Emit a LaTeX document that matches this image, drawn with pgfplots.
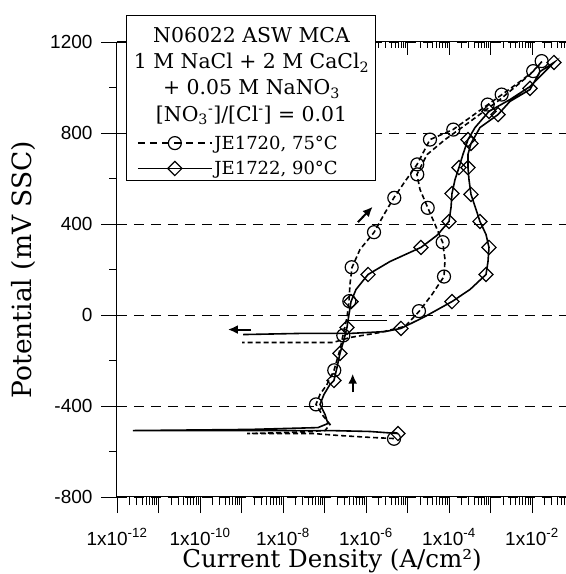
\documentclass[border=0pt]{standalone}
\usepackage{pgfplots}
\pgfplotsset{compat=1.18}
\usepackage{fontspec}
\setmainfont{DejaVu Serif}
\setsansfont{Liberation Sans}
\usetikzlibrary{arrows.meta}

\begin{document}
\begin{tikzpicture}
\useasboundingbox (0,0) rectangle (566bp,574bp);

% top axis with inward ticks
\begin{axis}[xmode=log,
  scale only axis, width=449bp, height=455bp,
  xmin=1e-12, xmax=0.066, ymin=-800, ymax=1200,
  at={(117bp,77bp)}, anchor=south west,
  xtick={1e-11,1e-10,1e-9,1e-8,1e-7,1e-6,1e-5,1e-4,1e-3,1e-2},
  minor xtick={2e-12,3e-12,4e-12,5e-12,6e-12,7e-12,8e-12,9e-12,
    2e-11,3e-11,4e-11,5e-11,6e-11,7e-11,8e-11,9e-11,
    2e-10,3e-10,4e-10,5e-10,6e-10,7e-10,8e-10,9e-10,
    2e-9,3e-9,4e-9,5e-9,6e-9,7e-9,8e-9,9e-9,
    2e-8,3e-8,4e-8,5e-8,6e-8,7e-8,8e-8,9e-8,
    2e-7,3e-7,4e-7,5e-7,6e-7,7e-7,8e-7,9e-7,
    2e-6,3e-6,4e-6,5e-6,6e-6,7e-6,8e-6,9e-6,
    2e-5,3e-5,4e-5,5e-5,6e-5,7e-5,8e-5,9e-5,
    2e-4,3e-4,4e-4,5e-4,6e-4,7e-4,8e-4,9e-4,
    2e-3,3e-3,4e-3,5e-3,6e-3,7e-3,8e-3,9e-3,
    2e-2,3e-2,4e-2,5e-2,6e-2},
  axis line style={-, line width=1bp, black},
  every tick/.style={black, line width=0.8bp},
  axis x line*=top, axis y line=none,
  tick align=inside, major tick length=13bp, minor tick length=6bp,
  xticklabels={}, ytick=\empty]
\addplot[draw=none] coordinates {(1e-6,0)};
\end{axis}

\begin{axis}[xmode=log,
  scale only axis, width=449bp, height=455bp,
  xmin=1e-12, xmax=0.066, ymin=-800, ymax=1200,
  at={(117bp,77bp)}, anchor=south west,
  xtick={1e-12,1e-11,1e-10,1e-9,1e-8,1e-7,1e-6,1e-5,1e-4,1e-3,1e-2},
  minor xtick={2e-12,3e-12,4e-12,5e-12,6e-12,7e-12,8e-12,9e-12,
    2e-11,3e-11,4e-11,5e-11,6e-11,7e-11,8e-11,9e-11,
    2e-10,3e-10,4e-10,5e-10,6e-10,7e-10,8e-10,9e-10,
    2e-9,3e-9,4e-9,5e-9,6e-9,7e-9,8e-9,9e-9,
    2e-8,3e-8,4e-8,5e-8,6e-8,7e-8,8e-8,9e-8,
    2e-7,3e-7,4e-7,5e-7,6e-7,7e-7,8e-7,9e-7,
    2e-6,3e-6,4e-6,5e-6,6e-6,7e-6,8e-6,9e-6,
    2e-5,3e-5,4e-5,5e-5,6e-5,7e-5,8e-5,9e-5,
    2e-4,3e-4,4e-4,5e-4,6e-4,7e-4,8e-4,9e-4,
    2e-3,3e-3,4e-3,5e-3,6e-3,7e-3,8e-3,9e-3,
    2e-2,3e-2,4e-2,5e-2,6e-2},
  axis line style={-, line width=1bp, black},
  every tick/.style={black, line width=0.8bp},
  axis x line*=bottom, axis y line*=left,
  tick align=outside, major tick length=16bp, minor tick length=8bp,
  clip=false,
  ytick={-800,-400,0,400,800,1200},
  yticklabels={-800,-400,0,400,800,1200},
  minor ytick={-600,-200,200,600,1000},
  xticklabels={1x10\textsuperscript{-12},{},1x10\textsuperscript{-10},{},1x10\textsuperscript{-8},{},1x10\textsuperscript{-6},{},1x10\textsuperscript{-4},{},1x10\textsuperscript{-2}},
  tick label style={font=\fontsize{19bp}{21bp}\sffamily},
  xticklabel style={yshift=-12bp},
  yticklabel style={xshift=-5bp},
  ymajorgrids,
  grid style={black, line width=0.8bp, dash pattern=on 10bp off 7bp},
  xlabel={Current Density (A/cm²)},
  ylabel={Potential (mV SSC)},
  xlabel style={font=\fontsize{24.5bp}{28bp}\selectfont, at={(axis description cs:0.479,0)}, anchor=base, yshift=-70bp},
  ylabel style={font=\fontsize{26.5bp}{30bp}\selectfont, at={(axis description cs:-0.1893,0.5)}, anchor=base, rotate=0},
  legend style={at={(0.0379,0.8033)}, anchor=north west, draw=none, fill=none,
    font=\fontsize{18bp}{21bp}\selectfont, legend cell align=left, row sep=6.5bp},
  legend image code/.code={\draw[mark repeat=2,mark phase=2,#1] plot coordinates {(0bp,0bp)(37bp,0bp)(74bp,0bp)};},
]
% JE1720 75C, dashed
\addplot[forget plot, black, line width=1.6bp, dash pattern=on 5bp off 3bp] coordinates {
(4.73e-6,-543)(1.25e-6,-538)(2.36e-7,-530)(5.28e-8,-521)(8.47e-9,-521)(1.36e-9,-521)
(1.48e-8,-516)(1.03e-7,-508)(1.36e-7,-481)(8.71e-8,-437)(6.24e-8,-393)(7.80e-8,-349)
(1.15e-7,-305)(1.69e-7,-244)(2.36e-7,-152)(2.79e-7,-90)(3.48e-7,-11)(3.89e-7,59)
(4.11e-7,134)(4.60e-7,209)(7.16e-7,288)(1.56e-6,363)(2.72e-6,442)(4.73e-6,516)
(8.71e-6,587)(1.69e-5,661)(3.48e-5,771)(1.25e-4,815)(3.21e-4,868)(8.71e-4,925)
(1.89e-3,969)(5.14e-3,1026)(1.06e-2,1070)(1.74e-2,1114)
(8.95e-3,1057)(1.69e-3,947)(3.21e-4,850)(8.02e-5,771)(2.95e-5,705)(1.69e-5,618)
(2.00e-5,552)(3.07e-5,472)(4.61e-5,398)(7.05e-5,319)(8.02e-5,244)(7.59e-5,169)
(3.89e-5,90)(1.89e-5,15)(8.71e-6,-50)(2.17e-6,-77)(4.11e-7,-99)(1.60e-7,-121)(1.03e-9,-121)
};
\addplot[forget plot, only marks, mark=o, mark size=6.5bp, mark options={black, line width=1.2bp}] coordinates {
(1.71e-2,1116)(1.07e-2,1072)(1.86e-3,969)(8.57e-4,925)(1.27e-4,815)(3.48e-5,771)
(1.72e-5,662)(1.72e-5,618)(4.81e-6,515)(3.07e-5,471)(1.56e-6,364)(7.05e-5,320)
(4.52e-7,210)(7.59e-5,169)(3.96e-7,61)(1.89e-5,17)(2.84e-7,-90)(1.72e-7,-243)
(6.24e-8,-393)(4.73e-6,-544)
};
% JE1722 90C, solid
\addplot[forget plot, black, line width=1.6bp] coordinates {
(5.90e-6,-521)(1.25e-6,-512)(1.36e-7,-508)(1.60e-9,-508)(2.43e-12,-508)(1.60e-9,-503)
(6.96e-8,-495)(1.21e-7,-477)(1.03e-7,-437)(7.80e-8,-393)(9.73e-8,-349)(1.36e-7,-305)
(1.69e-7,-288)(2.00e-7,-231)(2.36e-7,-169)(2.95e-7,-108)(3.48e-7,-55)(3.89e-7,2)
(4.36e-7,59)(5.74e-7,112)(1.12e-6,178)(3.78e-6,235)(2.11e-5,297)(5.14e-5,350)
(1.00e-4,411)(1.12e-4,473)(1.18e-4,534)(1.40e-4,596)(1.74e-4,648)(2.17e-4,706)
(2.87e-4,771)(4.24e-4,824)(9.20e-4,895)(2.95e-3,947)(8.95e-3,1004)(3.39e-2,1110)
(1.56e-2,1070)(8.95e-3,991)(2.95e-3,939)(1.52e-3,881)(5.58e-4,824)(3.39e-4,754)
(2.87e-4,706)(2.87e-4,648)(3.03e-4,596)(3.39e-4,530)(4.48e-4,464)(5.58e-4,411)
(7.80e-4,354)(9.20e-4,297)(8.71e-4,235)(7.80e-4,178)(3.21e-4,112)(1.18e-4,59)
(2.64e-5,-7)(6.97e-6,-59)(2.87e-6,-73)(4.11e-7,-81)(2.57e-8,-81)(1.09e-9,-86)
};
\addplot[forget plot, black, line width=1.6bp] coordinates {(3.48e-7,-24)(3.21e-6,-24)};
\addplot[forget plot, only marks, mark=square, mark size=5bp, mark options={black, rotate=45, line width=1.2bp}] coordinates {
(3.39e-2,1110)(8.95e-3,996)(1.52e-3,881)(9.20e-4,895)(2.87e-4,771)(3.39e-4,754)
(1.74e-4,648)(2.87e-4,648)(1.18e-4,534)(3.39e-4,530)(1.00e-4,411)(5.58e-4,411)
(2.11e-5,297)(9.20e-4,297)(1.12e-6,178)(7.80e-4,178)(1.18e-4,59)(4.36e-7,59)
(6.97e-6,-59)(3.48e-7,-55)(2.36e-7,-169)(1.69e-7,-288)(5.90e-6,-521)
};
% arrows
\draw[-{Latex[length=10bp,width=9bp]}, line width=2bp] (axis cs:1.7e-9,-64) -- (axis cs:4.7e-10,-64);
\draw[-{Latex[length=10bp,width=9bp]}, line width=2bp] (axis cs:6.4e-7,408) -- (axis cs:1.45e-6,476);
\draw[-{Latex[length=10bp,width=9bp]}, line width=2bp] (axis cs:4.78e-7,-340) -- (axis cs:4.78e-7,-258);
% legend box
\draw[fill=white, line width=1bp] (rel axis cs:0.02227,1.0593) rectangle (rel axis cs:0.5768,0.6945);
\node[align=center, anchor=north, inner sep=0pt, font=\fontsize{20.4bp}{23.3bp}\selectfont]
  at (rel axis cs:0.2996,1.033)
  {N06022 ASW MCA\\[3bp] 1 M NaCl + 2 M CaCl\textsubscript{2}\\[3bp] + 0.05 M NaNO\textsubscript{3}\\[3bp]
   {}[NO\textsubscript{3}\textsuperscript{-}]/[Cl\textsuperscript{-}] = 0.01};
\addlegendimage{black, line width=1.3bp, dash pattern=on 7bp off 5bp, mark=o, mark size=6.5bp, mark options={solid, line width=1.2bp}}
\addlegendentry{JE1720, 75°C}
\addlegendimage{black, line width=1.3bp, mark=square, mark size=5bp, mark options={rotate=45, line width=1.2bp}}
\addlegendentry{JE1722, 90°C}
\end{axis}
\end{tikzpicture}
\end{document}
